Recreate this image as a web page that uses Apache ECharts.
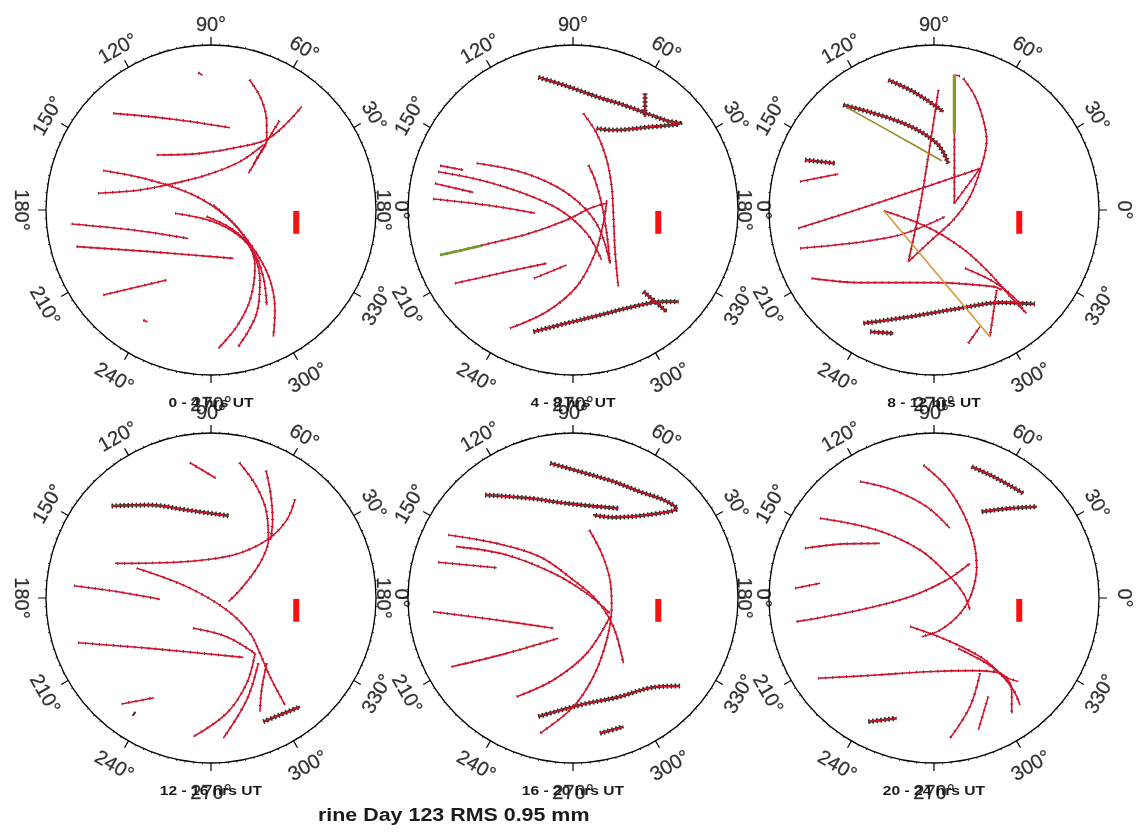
<!DOCTYPE html>
<html>
<head>
<meta charset="utf-8">
<script src="https://cdn.jsdelivr.net/npm/echarts/dist/echarts.min.js"></script>
<style>
  html, body { margin: 0; padding: 0; background: #fff; }
  #chart { width: 1139px; height: 832px; }
</style>
</head>
<body>
<div id="chart"></div>
<script>
// Sky-plot residual tracks, six 4-hour windows.
// Track points are sky-plane coordinates in zenith-angle degrees (x right, y up, horizon = 90).

const panelTitles = ['0 - 4 hrs UT', '4 - 8 hrs UT', '8 - 12 hrs UT', '12 - 16 hrs UT', '16 - 20 hrs UT', '20 - 24 hrs UT'];
const angleTicks = [0, 30, 60, 90, 120, 150, 180, 210, 240, 270, 300, 330];
const angleLabels = ['0°', '30°', '60°', '90°', '120°', '150°', '180°', '210°', '240°', '270°', '300°', '330°'];
const mainTitle = 'rine Day 123 RMS 0.95 mm';

// residual scale bar, same in every window
const scaleBar = [[46.5, -0.5], [46.5, -13]];

// 0 - 4 hrs
const tracks00 = [
  [[21, 71], [27.6, 60], [30.4, 47.3], [30.4, 38.2], [25.8, 29.1], [20.4, 20]],
  [[-29.6, 30], [-6, 30.9], [15.8, 34.5], [30.4, 38.5], [41.3, 47.3], [49.5, 56.4]],
  [[37.3, 48.7], [30.4, 37.3], [23.5, 25.5]],
  [[-53.3, 52.7], [-20.5, 49.5], [10.4, 44.9]],
  [[-6.9, 74.9], [-4.7, 73.5]],
  [[-61.5, 9.1], [-38.7, 10.9], [-22.4, 14], [-2.4, 19.1], [15.8, 26.4], [28.5, 35.5]],
  [[-58.7, 21.5], [-33.3, 16.4], [-9.6, 8.2], [8.5, -3.6], [20.4, -18.2], [24, -30.9], [21.3, -49.1], [14, -63.6], [4, -75.5]],
  [[-19.6, -1.8], [1.3, -6.4], [15.8, -14.5], [23.1, -23.6], [26.7, -38.2], [24.9, -56.4], [14.9, -74.5]],
  [[1.3, 2.7], [14, -9.1], [24.9, -23.6], [32.2, -38.2], [34.9, -54.5], [34, -69.1]],
  [[-2.4, -3.6], [12.2, -10.9], [22.7, -21.8], [28.5, -36.4], [30.4, -51.8]],
  [[-76, -7.6], [-42.4, -10.9], [-12.4, -15.5]],
  [[-73.3, -20], [-33.3, -22.7], [12.2, -26.4]],
  [[-58.7, -46.4], [-24.2, -38.2]],
  [[-36.9, -60], [-34.7, -61.1]]
];
const noisy00 = [];

// 4 - 8 hrs
const tracks04 = [
  [[5.6, 52.7], [12.9, 41.8], [18.4, 27.3], [21.1, 12.7], [22, -1.8], [22.9, -21.8], [24.7, -41.8]],
  [[8.4, 24.5], [12, 16.4], [15.6, 3.6], [18.4, -12.7], [20.2, -29.1]],
  [[-52.5, 25.5], [-28.9, 20.9], [-8.9, 12.7], [5.6, 1.8], [14.7, -10.9], [20.2, -29.1]],
  [[-73.5, 20.9], [-50.7, 16.4], [-27.1, 9.1], [-7.1, 0], [7.5, -12.7], [15.6, -27.3]],
  [[-72.5, 24.2], [-59.8, 21.8]],
  [[-75.3, 14.5], [-54.4, 9.6]],
  [[-76.2, 6], [-47.1, 2.7], [-20.7, -1.8]],
  [[-72.5, -24.5], [-48.9, -19.1], [-23.5, -12.7], [-3.5, -5.5], [9.3, 0.9], [17.5, 3.6]],
  [[-64.4, -40], [-39.8, -34.5], [-14.4, -29.1]],
  [[-21.3, -37.3], [-3.5, -30]],
  [[-34.4, -64.5], [-14.4, -55.5], [2, -41.8], [12, -23.6], [16.9, -5.5], [18.4, 5.5]]
];
const noisy04 = [
  [[-18.9, 72.4], [-3.5, 67.6], [12.9, 61.8], [27.5, 57.3], [40.2, 52.7], [51.1, 48.7], [58.4, 47.3], [40.2, 45.1], [22, 43.6], [12.9, 44.5]],
  [[39.3, 63.6], [39.3, 50.9]],
  [[-21.6, -66.4], [-3.5, -61.8], [14.7, -57.3], [32.9, -52.7], [49.3, -50], [57.5, -50]],
  [[38.4, -44.5], [51.1, -55.5]]
];
const green04 = [[-72.5, -24.5], [-60, -21.8], [-50, -19.5]];

// 8 - 12 hrs
const tracks08 = [
  [[14.2, 73.1], [11.1, 73.6], [11.1, 3.6], [25.1, 22.7]],
  [[16, 71.8], [22.4, 61.8], [26.9, 49.1], [28.7, 38.2], [25.5, 22.7], [19.6, 7.3], [10.5, -5.5], [-0.4, -15.5], [-14, -28.2]],
  [[2.4, 65.5], [-3, 30], [-8, 0], [-14, -28.2]],
  [[-74, -10], [-25.8, 5.5], [25.1, 22.7]],
  [[-73.1, -20.9], [-22.2, -14.5], [6, -3.6]],
  [[-66.7, -37.3], [-40.4, -39.6], [-0.4, -39.6], [32.4, -41.8], [36.9, -43.6]],
  [[-27.3, -0.4], [-4, -9.1], [14.2, -20], [28.7, -32.7], [43.3, -49.1], [50.5, -56.4]],
  [[16.9, -31.8], [32.4, -39.1], [43.3, -47.3], [48.7, -54.5]],
  [[34.2, -43.6], [30.5, -69.1]],
  [[18.7, -72.7], [25.1, -63.6]],
  [[-73.1, 15.5], [-52.2, 19.6]]
];
const noisy08 = [
  [[-24.9, 70.9], [-13.1, 65.5], [-4, 60], [5.1, 53.6]],
  [[-49.5, 57.3], [-16.7, 47.3], [1.5, 36.4], [7.8, 25.5]],
  [[-38.5, -61.8], [-13.1, -58.2], [14.2, -53.6], [36, -50.5], [55.1, -51.3]],
  [[-34.9, -66.4], [-22.2, -67.3]],
  [[-70.4, 27.3], [-54, 25.5]]
];
const olive08 = [[[-47.6, 56], [-22.2, 41.8], [4.2, 26.9]], [[11.1, 73.6], [11.1, 41.8]]];
const tan08 = [[-27.3, -0.4], [30.5, -69.1]];

// 12 - 16 hrs
const tracks12 = [
  [[-11.5, 73.8], [2.7, 65.3]],
  [[15.5, 73.8], [24.9, 60.7], [30.4, 46.2], [31.3, 31.6], [28.5, 22.5], [23.1, 13.5], [15.8, 4.4], [9.5, -2]],
  [[30, 69.5], [32.5, 57.1], [33.6, 42.5], [32.5, 31.6]],
  [[45.8, 53.8], [41.3, 42.5], [30.4, 31.6], [12.2, 23.5], [-15.1, 19.8], [-52.4, 18.9]],
  [[-40.5, 16.2], [-13.3, 6.2], [8.5, -6.5], [21.3, -19.3], [26.7, -30.2], [32.2, -42.9], [40.4, -58.4]],
  [[-74.7, 6.7], [-51.5, 3.5], [-27.8, -0.7]],
  [[-9.6, -16.5], [8.5, -21.1], [24, -30.2]],
  [[-72.4, -24.4], [-33.3, -27.5], [17.6, -32.4]],
  [[24, -30.2], [19.5, -46.5], [8.5, -62.9], [-9.6, -75.6]],
  [[25.8, -35.6], [19.5, -55.6], [6.7, -76.5]],
  [[30.4, -35.6], [27.6, -50.2], [26.7, -62]],
  [[-48.7, -57.8], [-31.1, -54.4]]
];
const noisy12 = [
  [[-54.2, 50.2], [-33.3, 50.7], [-13.3, 48], [9.5, 44.9]],
  [[28.5, -67.5], [37.6, -63.8], [48.5, -59.3]],
  [[-42.4, -62.9], [-41.5, -63.5]]
];

// 16 - 20 hrs
const tracks16 = [
  [[8.9, 37.1], [15.6, 24.4], [20.2, 9.8], [21.1, -4.7], [18.4, -22.9], [11.1, -42.9], [0.2, -59.3], [-18, -73.8]],
  [[-68, 34.4], [-41.6, 29.8], [-18, 22.5], [0.2, 9.8], [12.9, -1.1], [22, -15.6], [27.5, -35.6]],
  [[-63.5, 28], [-36.2, 23.5], [-10.7, 13.5], [7.5, 2.5], [20.2, -8.4]],
  [[-30.7, -53.8], [-10.7, -44.7], [7.5, -30.2], [20.2, -10.2]],
  [[-73.5, 19.5], [-41.6, 16.5]],
  [[-76.2, -7.5], [-41.6, -12], [-10.7, -16.5]],
  [[-66.2, -37.5], [-36.2, -30.2], [-8, -22]]
];
const noisy16 = [
  [[-12.5, 73.5], [3.8, 68.9], [22, 63.5], [36.5, 58], [49.3, 53.5], [56.5, 48.9], [40.2, 45.3], [22, 44], [11.1, 45.3]],
  [[-48, 56.2], [-23.5, 54.4], [-3.5, 51.6], [24.7, 48.9]],
  [[-18.9, -64.7], [3.8, -58.4], [25.6, -53.8], [43.8, -48.7], [58.4, -48]],
  [[14.7, -73.8], [27.5, -70.2]]
];

// 20 - 24 hrs
const tracks20 = [
  [[-5.8, 72.5], [6.9, 60.7], [16, 46.2], [21.5, 31.6], [23.3, 17.1], [20.5, 2.5], [14.2, -8.4], [3.3, -17.5], [-6.7, -21.1]],
  [[-40.4, 63.5], [-22.2, 58.9], [-4, 49.8], [8.7, 38]],
  [[-62.2, 43.5], [-31.3, 37.1], [-7.6, 26.2], [6.9, 13.5], [16, 2.5], [19.6, -6.5]],
  [[-70.4, 27.1], [-49.5, 29.5], [-29.5, 29.8]],
  [[-75.8, 5.3], [-62.2, 8]],
  [[-74.9, -12.9], [-40.4, -6.5], [-13.1, 0.7], [6.9, 9.8], [19.6, 18.9]],
  [[-13.1, -15.6], [6.9, -22.9], [25.1, -32], [36, -41.1], [43.3, -50.2], [46.9, -58.4]],
  [[13.3, -27.5], [28.7, -35.6], [38.7, -42.9], [46, -45.6]],
  [[-63.1, -43.8], [-31.3, -42], [-4, -40.2], [21.5, -39.6], [36, -41.1], [42.4, -50], [42.4, -62.9]],
  [[25.1, -41.1], [19.6, -59.3], [8.7, -76.5]],
  [[29.6, -53.8], [24.2, -72]]
];
const noisy20 = [
  [[20.5, 71.6], [32.4, 66.2], [48.7, 57.1]],
  [[26, 47.1], [41.5, 48.9], [56, 49.8]],
  [[-35.8, -67.5], [-20.4, -65.6]]
];

const panels = [
  { tracks: tracks00, noisy: noisy00 },
  { tracks: tracks04, noisy: noisy04, extra: [{ pts: green04, color: '#6f9d2c', width: 2.6 }] },
  { tracks: tracks08, noisy: noisy08, extra: [
      { pts: olive08[0], color: '#8f8a2a', width: 1.6, alone: true },
      { pts: olive08[1], color: '#8c9a22', width: 3.2 },
      { pts: tan08, color: '#d49a38', width: 1.6, alone: true }] },
  { tracks: tracks12, noisy: noisy12 },
  { tracks: tracks16, noisy: noisy16 },
  { tracks: tracks20, noisy: noisy20 }
];

// layout
const centers = [[211, 210], [573, 210], [934, 210], [211, 598], [573, 598], [934, 598]];
const R = 165;
const HORIZON = 90;
const RED = '#d8102c';
const DARK = '#262d1f';

// azimuth labels sit ~190 px out, nudged slightly downward overall
function labelRadius(a) {
  return HORIZON * (190 - 5 * Math.sin(a * Math.PI / 180)) / R;
}
function labelRotation(a) {
  let r = a - 90;
  while (r >= 90) r -= 180;
  while (r < -90) r += 180;
  return r;
}

const option = {
  animation: false,
  backgroundColor: '#ffffff',
  polar: [], angleAxis: [], radiusAxis: [],
  grid: [], xAxis: [], yAxis: [],
  series: [], graphic: []
};

panels.forEach((p, i) => {
  const [cx, cy] = centers[i];
  option.polar.push({ center: [cx, cy], radius: R });
  option.angleAxis.push({
    polarIndex: i, type: 'value', min: 0, max: 360, interval: 30,
    startAngle: 0, clockwise: false,
    axisLine: { lineStyle: { color: '#000', width: 1.3 } },
    axisTick: { show: true, length: 8, lineStyle: { color: '#000', width: 1.2 } },
    minorTick: { show: true, splitNumber: 10, length: 1.5, lineStyle: { color: '#222', width: 1 } },
    axisLabel: { show: false },
    splitLine: { show: false }
  });
  option.radiusAxis.push({ polarIndex: i, type: 'value', min: 0, max: HORIZON, show: false });
  option.grid.push({ left: cx - R, top: cy - R, width: 2 * R, height: 2 * R, show: false });
  option.xAxis.push({ gridIndex: i, type: 'value', min: -HORIZON, max: HORIZON, show: false });
  option.yAxis.push({ gridIndex: i, type: 'value', min: -HORIZON, max: HORIZON, show: false });

  // azimuth labels
  option.series.push({
    type: 'scatter', coordinateSystem: 'polar', polarIndex: i,
    symbolSize: 0, clip: false, silent: true, z: 5,
    data: angleTicks.map((a, k) => ({
      value: [labelRadius(a), a], name: angleLabels[k],
      label: { rotate: labelRotation(a) }
    })),
    label: {
      show: true, position: 'inside', formatter: '{b}',
      fontSize: 20, color: '#000', textBorderColor: '#333', textBorderWidth: 0.3,
      fontFamily: 'Liberation Sans, Arial, sans-serif'
    }
  });

  const addLine = (pts, style, z) => option.series.push({
    type: 'line', xAxisIndex: i, yAxisIndex: i, data: pts,
    symbol: 'none', smooth: 0.35, silent: true, z: z,
    lineStyle: style
  });

  p.tracks.forEach(t => {
    addLine(t, { color: DARK, width: 2.8, type: [1, 6] }, 2);
    addLine(t, { color: RED, width: 1.6 }, 3);
  });
  p.noisy.forEach(t => {
    addLine(t, { color: DARK, width: 5, type: [1.5, 2.5] }, 2);
    addLine(t, { color: DARK, width: 2.6 }, 2);
    addLine(t, { color: RED, width: 1.5 }, 3);
  });
  (p.extra || []).forEach(e => {
    addLine(e.pts, { color: e.color, width: e.width }, e.alone ? 3 : 4);
  });

  // scale bar
  option.series.push({
    type: 'line', xAxisIndex: i, yAxisIndex: i, data: scaleBar,
    symbol: 'none', silent: true, z: 4,
    lineStyle: { color: '#ff1010', width: 6, cap: 'butt' }
  });

  option.graphic.push({
    type: 'text', x: cx, y: cy + 193, z: 10, scaleX: 1.2,
    style: {
      text: panelTitles[i], fill: '#1a1a1a', align: 'center', verticalAlign: 'middle',
      font: 'bold 13px "Liberation Sans", Arial, sans-serif'
    }
  });
});

option.graphic.push({
  type: 'text', x: 318, y: 816, z: 10, scaleX: 1.19,
  style: {
    text: mainTitle, fill: '#1a1a1a', align: 'left', verticalAlign: 'middle',
    font: 'bold 18px "Liberation Sans", Arial, sans-serif'
  }
});

const chart = echarts.init(document.getElementById('chart'), null, { renderer: 'canvas' });
chart.setOption(option);
</script>
</body>
</html>
